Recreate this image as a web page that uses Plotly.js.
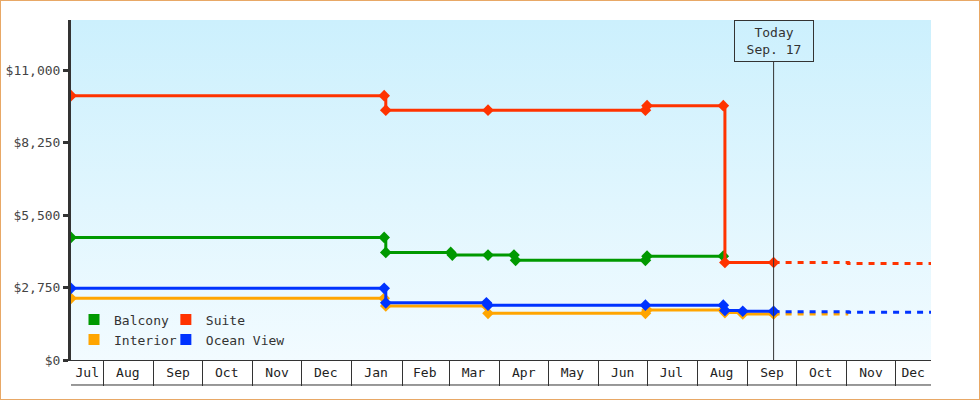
<!DOCTYPE html>
<html>
<head>
<meta charset="utf-8">
<script src="https://cdn.plot.ly/plotly-3.0.1.min.js"></script>
<style>
  body { margin: 0; background: #fff; }
  #wrap { position: relative; width: 980px; height: 400px; }
  #chart { width: 980px; height: 400px; }
  #frame { position: absolute; left: 0; top: 0; width: 980px; height: 400px;
           box-sizing: border-box; border: 1px solid #e8a866; pointer-events: none; }
</style>
</head>
<body>
<div id="wrap"><div id="chart"></div><div id="frame"></div></div>
<script>
// price history per cabin type
var suiteDates = ['2023-07-12', '2024-01-21', '2024-01-22', '2024-03-25', '2024-06-30', '2024-07-01', '2024-08-17', '2024-08-18', '2024-09-17'];
var suitePrices = [10030, 10030, 9480, 9480, 9480, 9650, 9650, 3700, 3700];

var balconyDates = ['2023-07-12', '2024-01-21', '2024-01-22', '2024-03-02', '2024-03-03', '2024-03-25', '2024-04-10', '2024-04-11', '2024-06-30', '2024-07-01', '2024-08-17'];
var balconyPrices = [4650, 4650, 4080, 4080, 3980, 3980, 3980, 3780, 3780, 3940, 3940];

var oceanDates = ['2023-07-12', '2024-01-21', '2024-01-22', '2024-03-24', '2024-03-25', '2024-06-30', '2024-08-17', '2024-08-18', '2024-08-29', '2024-09-17'];
var oceanPrices = [2720, 2720, 2170, 2170, 2080, 2080, 2080, 1880, 1850, 1850];

var interiorDates = ['2023-07-12', '2024-01-21', '2024-01-22', '2024-03-24', '2024-03-25', '2024-06-30', '2024-07-01', '2024-08-17', '2024-08-18', '2024-08-29', '2024-09-17'];
var interiorPrices = [2340, 2340, 2050, 2050, 1770, 1770, 1900, 1900, 1800, 1750, 1750];

// projections after today
var suiteProjDates = ['2024-09-17', '2024-11-02', '2024-12-23'];
var suiteProj = [3700, 3660, 3660];
var oceanProjDates = ['2024-09-17', '2024-11-02', '2024-12-23'];
var oceanProj = [1835, 1815, 1815];
var interiorProjDates = ['2024-09-17', '2024-11-02'];
var interiorProj = [1750, 1750];

var today = '2024-09-17';
var todayLabel = 'Today<br>Sep. 17';

var xRange = ['2023-07-12', '2024-12-23'];
var monthStarts = ['2023-07-01', '2023-08-01', '2023-09-01', '2023-10-01', '2023-11-01', '2023-12-01',
                   '2024-01-01', '2024-02-01', '2024-03-01', '2024-04-01', '2024-05-01', '2024-06-01',
                   '2024-07-01', '2024-08-01', '2024-09-01', '2024-10-01', '2024-11-01', '2024-12-01', '2025-01-01'];
var monthNames = ['Jul', 'Aug', 'Sep', 'Oct', 'Nov', 'Dec', 'Jan', 'Feb', 'Mar', 'Apr', 'May', 'Jun',
                  'Jul', 'Aug', 'Sep', 'Oct', 'Nov', 'Dec'];

var yTicks = [0, 2750, 5500, 8250, 11000];
var yLabels = ['$0', '$2,750', '$5,500', '$8,250', '$11,000'];

var colors = {suite: '#ff3300', balcony: '#009900', ocean: '#0033ff', interior: '#ffa500'};
var font = 'DejaVu Sans Mono, monospace';

// label sits in the middle of the visible part of each month
var r0 = new Date(xRange[0]).getTime(), r1 = new Date(xRange[1]).getTime();
var labelVals = [];
for (var i = 0; i < monthNames.length; i++) {
  var a = Math.max(new Date(monthStarts[i]).getTime(), r0);
  var b = Math.min(new Date(monthStarts[i + 1]).getTime(), r1);
  labelVals.push(new Date((a + b) / 2).toISOString().slice(0, 10));
}

function series(x, y, color) {
  return {
    x: x, y: y, type: 'scatter', mode: 'lines+markers', showlegend: false,
    line: {color: color, width: 3, shape: 'hv'},
    marker: {color: color, symbol: 'diamond', size: 9},
    hoverinfo: 'x+y'
  };
}
function projection(x, y, color) {
  return {
    x: x, y: y, type: 'scatter', mode: 'lines', showlegend: false,
    line: {color: color, width: 3, shape: 'hv', dash: '6px,6px'},
    hoverinfo: 'skip'
  };
}
function key(name, color, legend) {
  return {
    x: [null], y: [null], type: 'scatter', mode: 'markers', name: name,
    xaxis: 'x2', legend: legend,
    marker: {color: color, symbol: 'square', size: 11}
  };
}

var data = [
  projection(interiorProjDates, interiorProj, colors.interior),
  projection(oceanProjDates, oceanProj, colors.ocean),
  projection(suiteProjDates, suiteProj, colors.suite),
  series(interiorDates, interiorPrices, colors.interior),
  series(oceanDates, oceanPrices, colors.ocean),
  series(balconyDates, balconyPrices, colors.balcony),
  series(suiteDates, suitePrices, colors.suite),
  key('Balcony', colors.balcony, 'legend'),
  key('Suite', colors.suite, 'legend2'),
  key('Interior', colors.interior, 'legend3'),
  key('Ocean View', colors.ocean, 'legend4')
];

var bg = '<svg xmlns="http://www.w3.org/2000/svg" width="10" height="100" preserveAspectRatio="none">' +
  '<defs><linearGradient id="g" x1="0" y1="0" x2="0" y2="1">' +
  '<stop offset="0" stop-color="#ccf0fd"/><stop offset="1" stop-color="#f2fbff"/></linearGradient></defs>' +
  '<rect width="10" height="100" fill="url(#g)"/></svg>';

function legendAt(x, y) {
  return {
    x: x, y: y, xanchor: 'left', yanchor: 'top',
    bgcolor: 'rgba(0,0,0,0)', borderwidth: 0,
    font: {family: font, size: 13, color: '#333'}
  };
}

var layout = {
  width: 980, height: 400,
  margin: {l: 71, r: 49, t: 20, b: 40},
  paper_bgcolor: '#fff',
  plot_bgcolor: 'rgba(0,0,0,0)',
  font: {family: font, size: 13, color: '#333'},
  xaxis: {
    type: 'date', range: xRange,
    tickmode: 'array', tickvals: labelVals, ticktext: monthNames,
    ticks: '', showgrid: false, zeroline: false,
    showline: true, linecolor: '#333', linewidth: 1,
    tickfont: {family: font, size: 13, color: '#222'}
  },
  xaxis2: {
    type: 'date', range: xRange, overlaying: 'x', side: 'bottom', anchor: 'y',
    tickmode: 'array', tickvals: monthStarts,
    ticks: 'outside', ticklen: 25, tickwidth: 1, tickcolor: '#333',
    showticklabels: false, showgrid: false, zeroline: false, showline: false
  },
  yaxis: {
    range: [0, 12900],
    tickmode: 'array', tickvals: yTicks, ticktext: yLabels,
    ticks: 'outside', ticklen: 5, tickwidth: 3, tickcolor: '#333',
    showline: true, linecolor: '#333', linewidth: 3,
    showgrid: false, zeroline: false,
    tickfont: {family: font, size: 13, color: '#444'}
  },
  legend: legendAt(0.0035, 0.163),
  legend2: legendAt(0.1103, 0.163),
  legend3: legendAt(0.0035, 0.104),
  legend4: legendAt(0.1103, 0.104),
  images: [{
    source: 'data:image/svg+xml;charset=utf-8,' + encodeURIComponent(bg),
    xref: 'paper', yref: 'paper', x: 0, y: 1, sizex: 1, sizey: 1,
    xanchor: 'left', yanchor: 'top', sizing: 'stretch', layer: 'below'
  }],
  shapes: [
    {type: 'line', xref: 'x', yref: 'paper', x0: today, x1: today, y0: 0, y1: 0.879,
     line: {color: '#333', width: 1}},
    {type: 'line', xref: 'paper', yref: 'paper', x0: 0, x1: 1, y0: -0.0735, y1: -0.0735,
     line: {color: '#333', width: 1}}
  ],
  annotations: [{
    x: today, xref: 'x', y: 1, yref: 'paper', xanchor: 'center', yanchor: 'top',
    text: todayLabel, showarrow: false, align: 'center',
    width: 70, height: 32, borderpad: 4,
    bordercolor: '#333', borderwidth: 1, bgcolor: 'rgba(0,0,0,0)',
    font: {family: font, size: 13, color: '#333'}
  }]
};

Plotly.newPlot('chart', data, layout, {displayModeBar: false, staticPlot: true});
</script>
</body>
</html>
